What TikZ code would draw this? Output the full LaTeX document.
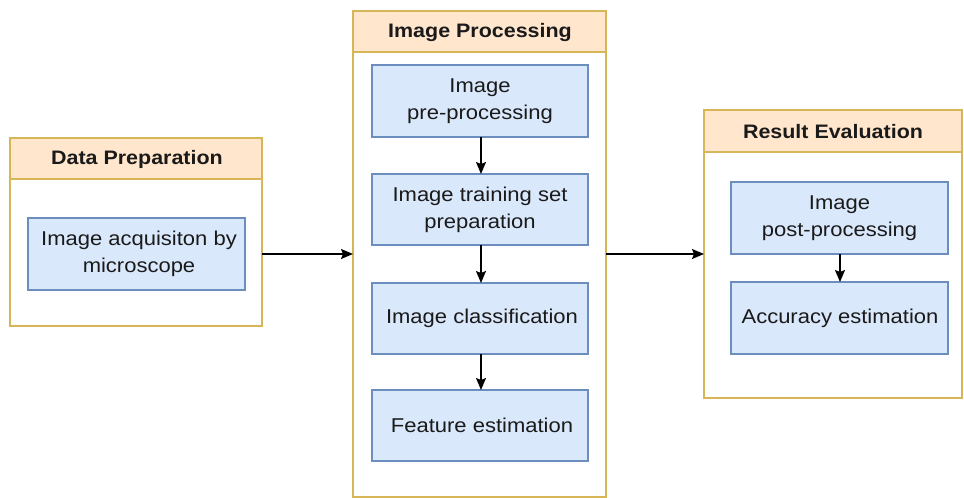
\documentclass[tikz,border=0pt]{standalone}
\usepackage{fontspec}
\setmainfont[FakeStretch=1.1]{Liberation Sans}
\usetikzlibrary{arrows.meta}
\definecolor{hdrfill}{HTML}{FFE6CC}
\definecolor{grpdraw}{HTML}{D6B656}
\definecolor{boxfill}{HTML}{DAE8FC}
\definecolor{boxdraw}{HTML}{6C8EBF}
\definecolor{txt}{HTML}{1A1A1A}
\begin{document}
\begin{tikzpicture}[x=1pt,y=-1pt,
  group/.style={draw=grpdraw,line width=1.4pt,fill=white},
  hdr/.style={draw=grpdraw,line width=1.4pt,fill=hdrfill},
  hdrtext/.style={font=\fontsize{19.5}{22}\selectfont\bfseries,text=txt},
  procbox/.style={draw=boxdraw,line width=1.2pt,fill=boxfill,inner sep=0pt},
  boxtext/.style={font=\fontsize{20}{27}\selectfont,align=center,text=txt},
  conn/.style={-{Stealth[length=12pt,width=10pt,inset=2pt]},line width=1.4pt,black}]
\useasboundingbox (0,0) rectangle (964,498);
% groups
\draw[group] (10,138) rectangle (262,326);
\draw[hdr] (10,138) rectangle (262,179);
\node[hdrtext] (dph) at (137,159) {Data Preparation};
\coordinate (dpr) at (262,254);

\draw[group] (353,11) rectangle (606,497);
\draw[hdr] (353,11) rectangle (606,52);
\node[hdrtext] (iph) at (480,32) {Image Processing};
\coordinate (ipl) at (353,254);
\coordinate (ipr) at (606,254);

\draw[group] (704,110) rectangle (962,398);
\draw[hdr] (704,110) rectangle (962,152);
\node[hdrtext] (reh) at (833,131.5) {Result Evaluation};
\coordinate (rel) at (704,254);

% inner boxes
\draw[procbox] (28,218) rectangle (245,290);
\node[boxtext] (acq) at (139,254) {Image acquisiton by\\microscope};

\draw[procbox] (372,65) rectangle (588,137);
\node[boxtext] (pre) at (480,101) {Image\\pre-processing};
\coordinate (preb) at (481,137);
\draw[procbox] (372,174) rectangle (588,245);
\node[boxtext] (train) at (480,209.5) {Image training set\\preparation};
\coordinate (traint) at (481,174);
\coordinate (trainb) at (481,245);
\draw[procbox] (372,283) rectangle (588,354);
\node[boxtext] (cls) at (482,318.5) {Image classification};
\coordinate (clst) at (481,283);
\coordinate (clsb) at (481,354);
\draw[procbox] (372,390) rectangle (588,461);
\node[boxtext] (feat) at (482,425.5) {Feature estimation};
\coordinate (featt) at (481,390);

\draw[procbox] (731,182) rectangle (948,254);
\node[boxtext] (post) at (839.5,218) {Image\\post-processing};
\coordinate (postb) at (840,254);
\draw[procbox] (731,282) rectangle (948,354);
\node[boxtext] (accu) at (840,318) {Accuracy estimation};
\coordinate (accut) at (840,282);

% connectors
\draw[conn] (dpr) -- (ipl);
\draw[conn] (ipr) -- (rel);
\draw[conn] (preb) -- (traint);
\draw[conn] (trainb) -- (clst);
\draw[conn] (clsb) -- (featt);
\draw[conn] (postb) -- (accut);
\end{tikzpicture}
\end{document}
